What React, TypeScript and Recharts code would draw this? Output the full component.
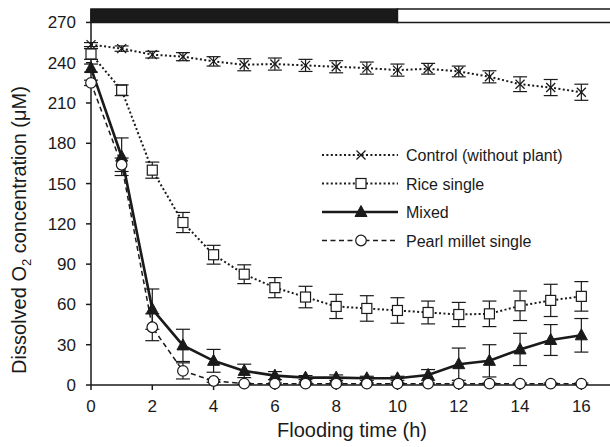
import React from 'react';
import { LineChart, Line, XAxis, YAxis, ErrorBar, ReferenceArea, Legend } from 'recharts';

const hours = [0, 1, 2, 3, 4, 5, 6, 7, 8, 9, 10, 11, 12, 13, 14, 15, 16];
const controlMean = [253.5, 250.5, 246, 244.5, 241, 238.5, 239, 238, 237, 236, 234.5, 235.5, 233.5, 229.5, 224, 221.5, 218];
const controlErr = [1.5, 2, 2.5, 3, 3.5, 4.5, 4.5, 4.5, 4.5, 4.5, 4.5, 4, 4, 4.5, 5.5, 6, 6];
const riceMean = [246.5, 219.5, 160, 121, 97, 82.5, 72.5, 65.5, 58.5, 57, 55.5, 54, 52.5, 53, 59, 63, 66];
const riceErr = [4, 4, 6, 7.5, 7, 7, 7.5, 8, 9, 9.5, 9.5, 8.5, 9, 9.5, 11, 12, 11];
const mixedMean = [236, 170, 56.5, 29.5, 18, 10.5, 7, 5.5, 5.5, 5, 5, 7.5, 15.5, 18, 26.5, 33.5, 37];
const mixedErr = [3, 14, 15, 12, 8.5, 5, 3, 1.5, 2, 1.5, 1.5, 4, 12, 12, 12, 11.5, 12.5];
const pearlMean = [225, 164, 43, 10.5, 3, 1, 1, 1, 1, 1, 1, 1, 1, 1, 1, 1, 1];
const pearlErr = [2, 5, 10, 6, 1, 0.5, 0.5, 0.5, 0.5, 0.5, 0.5, 0.5, 0.5, 0.5, 0.5, 0.5, 0.5];

const xTicks = [0, 2, 4, 6, 8, 10, 12, 14, 16];
const yTicks = [0, 30, 60, 90, 120, 150, 180, 210, 240, 270];
const darkPeriod = [0, 10];
const lightPeriod = [10, 17];
const barRange = [270, 280];

const seriesNames = ['Control (without plant)', 'Rice single', 'Mixed', 'Pearl millet single'];

const data = hours.map((h, i) => ({
  h,
  control: controlMean[i],
  controlE: controlErr[i],
  rice: riceMean[i],
  riceE: riceErr[i],
  mixed: mixedMean[i],
  mixedE: mixedErr[i],
  pearl: pearlMean[i],
  pearlE: pearlErr[i],
}));

const INK = '#1a1a1a';
const FONT = '"Liberation Sans", Arial, sans-serif';

const XMark = ({ cx, cy }: any) => (
  <g>
    <line x1={cx - 4.5} y1={cy - 4.5} x2={cx + 4.5} y2={cy + 4.5} stroke={INK} strokeWidth={1.3} />
    <line x1={cx - 4.5} y1={cy + 4.5} x2={cx + 4.5} y2={cy - 4.5} stroke={INK} strokeWidth={1.3} />
  </g>
);
const SquareMark = ({ cx, cy }: any) => (
  <rect x={cx - 5} y={cy - 5} width={10} height={10} fill="#fff" stroke={INK} strokeWidth={1.2} />
);
const TriMark = ({ cx, cy }: any) => (
  <path d={`M${cx},${cy - 6.5} L${cx + 6},${cy + 4.5} L${cx - 6},${cy + 4.5} Z`} fill={INK} stroke={INK} strokeWidth={1} />
);
const CircMark = ({ cx, cy }: any) => (
  <circle cx={cx} cy={cy} r={5.3} fill="#fff" stroke={INK} strokeWidth={1.2} />
);

const styles = [
  { key: 'control', dash: '2 2.4', width: 2, Mark: XMark },
  { key: 'rice', dash: '2 2.4', width: 2, Mark: SquareMark },
  { key: 'mixed', dash: undefined, width: 2.6, Mark: TriMark },
  { key: 'pearl', dash: '5 3.5', width: 1.5, Mark: CircMark },
];

const dotFn = (Mark: any) => (p: any) => <Mark key={`d${p.index}`} cx={p.cx} cy={p.cy} />;

const LegendBox = () => (
  <svg width={290} height={120} style={{ display: 'block' }}>
    {styles.map((s, i) => {
      const y = 13 + i * 28.5;
      const M = s.Mark;
      return (
        <g key={s.key}>
          <line x1={2} y1={y} x2={78} y2={y} stroke={INK} strokeWidth={s.width} strokeDasharray={s.dash} />
          <M cx={41} cy={y} />
          <text x={86} y={y + 6} fontSize={16} fontFamily={FONT} fill={INK}>{seriesNames[i]}</text>
        </g>
      );
    })}
  </svg>
);

const YLabel = () => (
  <text transform="translate(26,230) rotate(-90)" textAnchor="middle" fontSize={20} fontFamily={FONT} fill={INK}>
    Dissolved O<tspan fontSize={13} dy={5}>2</tspan><tspan dy={-5}> concentration (μM)</tspan>
  </text>
);
const XLabel = () => (
  <text x={352} y={437} textAnchor="middle" fontSize={20} fontFamily={FONT} fill={INK}>Flooding time (h)</text>
);

export default function App() {
  return (
    <div style={{ position: 'absolute', left: 0, top: 0, width: 610, height: 447, overflow: 'hidden', background: '#fff' }}>
      <LineChart width={612} height={447} data={data} margin={{ top: 9, right: 0, bottom: 0, left: 0 }}>
        <XAxis
          dataKey="h"
          type="number"
          domain={[0, 17]}
          ticks={xTicks}
          height={62}
          tickSize={5}
          tickMargin={10}
          stroke={INK}
          strokeWidth={1.5}
          tick={{ fontSize: 17, fontFamily: FONT, fill: INK }}
          label={{ content: XLabel }}
        />
        <YAxis
          type="number"
          domain={[0, 280]}
          ticks={yTicks}
          width={91}
          tickSize={5}
          tickMargin={10}
          stroke={INK}
          strokeWidth={1.5}
          tick={{ fontSize: 17, fontFamily: FONT, fill: INK }}
          label={{ content: YLabel }}
        />
        <ReferenceArea x1={darkPeriod[0]} x2={darkPeriod[1]} y1={barRange[0]} y2={barRange[1]} fill={INK} fillOpacity={1} stroke={INK} strokeWidth={1.5} />
        <ReferenceArea x1={lightPeriod[0]} x2={lightPeriod[1]} y1={barRange[0]} y2={barRange[1]} fill="#fff" fillOpacity={1} stroke={INK} strokeWidth={1.5} />
        <Legend
          layout="horizontal"
          verticalAlign="middle"
          wrapperStyle={{ position: 'absolute', left: 320, top: 142, width: 290 }}
          content={LegendBox}
        />
        {styles.map((s) => (
          <Line
            key={s.key}
            dataKey={s.key}
            type="linear"
            stroke={INK}
            strokeWidth={s.width}
            strokeDasharray={s.dash}
            dot={dotFn(s.Mark)}
            activeDot={false}
            isAnimationActive={false}
          >
            <ErrorBar dataKey={`${s.key}E`} width={7} stroke={INK} strokeWidth={1.2} direction="y" />
          </Line>
        ))}
      </LineChart>
    </div>
  );
}
